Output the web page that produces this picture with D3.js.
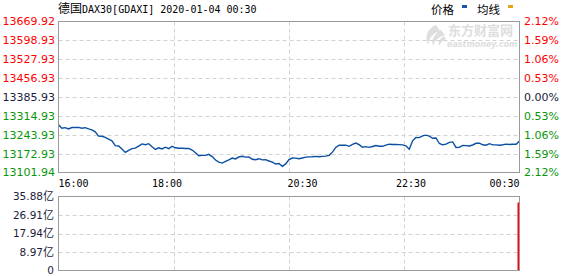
<!DOCTYPE html>
<html lang="zh">
<head>
<meta charset="UTF-8">
<title>德国DAX30</title>
<script src="https://cdnjs.cloudflare.com/ajax/libs/d3/7.8.5/d3.min.js"></script>
<style>
    body { margin: 0; background: #fff; }
    svg { display: block; }
</style>
</head>
<body>
<svg id="chart" width="578" height="276"></svg>
<script>
// previous close, price axis ticks, volume ticks (亿), time labels
var prevClose = 13385.93;
var priceTicks = [13101.94, 13172.93, 13243.93, 13314.93, 13385.93, 13456.93, 13527.93, 13598.93, 13669.92];
var volTicks = [0, 8.97, 17.94, 26.91, 35.88];
var timeLabels = ["16:00", "18:00", "20:30", "22:30", "00:30"];

// price samples, evenly spaced from 16:00 to 00:30
var prices = [
    13281.3, 13268.2, 13270.8, 13265.6, 13271.2, 13271.2, 13271.6, 13268.6, 13270.8, 13265.9,
    13262.2, 13255.1, 13239.0, 13238.3, 13233.8, 13227.5, 13221.1, 13203.2, 13201.7, 13190.5,
    13177.4, 13185.2, 13192.0, 13193.4, 13201.3, 13209.5, 13206.5, 13210.3, 13199.1, 13188.6,
    13194.9, 13190.5, 13197.2, 13191.6, 13200.5, 13194.9, 13193.1, 13193.4, 13192.0, 13192.7,
    13186.3, 13176.3, 13164.7, 13166.2, 13166.5, 13170.3, 13161.7, 13149.0, 13140.8, 13137.4,
    13143.7, 13149.7, 13156.1, 13153.1, 13160.2, 13163.2, 13159.8, 13160.6, 13151.6, 13150.1,
    13153.8, 13149.4, 13150.1, 13145.2, 13141.1, 13133.7, 13135.9, 13125.1, 13134.4, 13150.5,
    13156.5, 13156.1, 13153.5, 13156.5, 13159.8, 13160.9, 13161.3, 13162.4, 13161.3, 13162.4,
    13163.6, 13166.5, 13178.5, 13196.4, 13205.0, 13204.7, 13204.7, 13200.5, 13207.6, 13212.5,
    13206.9, 13196.8, 13199.1, 13196.4, 13199.8, 13203.2, 13200.5, 13200.5, 13204.7, 13208.4,
    13207.3, 13207.3, 13206.9, 13205.8, 13202.4, 13189.7, 13221.1, 13233.8, 13233.1, 13239.8,
    13242.4, 13238.7, 13230.8, 13231.9, 13211.0, 13206.2, 13208.8, 13215.1, 13217.0, 13196.1,
    13196.4, 13203.5, 13203.2, 13201.7, 13205.4, 13211.8, 13212.1, 13206.2, 13204.7, 13210.3,
    13205.8, 13205.8, 13204.3, 13206.2, 13208.8, 13207.3, 13208.0, 13208.4, 13220.7
];

// only the last sample carries volume so far
var volIndex = [138];
var volValues = [32.97];

var svg = d3.select('#chart');
var W = 578, H = 276;
var left = 58.5, right = 519.5;
var top1 = 21.5, bot1 = 172.5;
var top2 = 196.5, bot2 = 270.5;

var red = '#ff0000', green = '#0a960a', dark = '#1c1c3c', gridColor = '#d2d2d2', frameColor = '#9a9a9a';
var numFont = "'DejaVu Sans', Verdana, sans-serif";
var monoFont = "'DejaVu Sans Mono', 'Liberation Mono', monospace";
var cjkFont = "'Noto Sans CJK SC', sans-serif";

svg.append('rect').attr('width', W).attr('height', H).attr('fill', '#fff');

var t0 = new Date(2020, 0, 3, 16, 0);
var t1 = new Date(2020, 0, 4, 0, 30);
var step = (t1 - t0) / (prices.length - 1);
var data = prices.map(function (p, i) { return { t: new Date(+t0 + i * step), p: p }; });

var x = d3.scaleTime().domain([t0, t1]).range([left, right]);
var y = d3.scaleLinear().domain([priceTicks[0], priceTicks[priceTicks.length - 1]]).range([bot1, top1]);
var yv = d3.scaleLinear().domain([0, volTicks[volTicks.length - 1]]).range([bot2, top2]);

function colorFor(p) {
    if (Math.abs(p - prevClose) < 0.005) return dark;
    return p > prevClose ? red : green;
}

// watermark
var wm = svg.append('g').attr('fill', '#dedede');
wm.append('path')
    .attr('d', 'M436,25 C428,28 424,36 428,45 C429,38 433,33 440,31 Z M441,30 C434,34 431,40 433,46 C435,40 439,37 445,35 Z M444,36 C439,39 438,43 439,46 C441,42 443,40 446,39 Z');
wm.append('text').attr('x', 448).attr('y', 35)
    .style('font-family', cjkFont).style('font-size', '13px').style('font-weight', 'bold')
    .text('东方财富网');
wm.append('text').attr('x', 447).attr('y', 46.5)
    .style('font-family', "'DejaVu Sans', sans-serif").style('font-size', '8px')
    .style('font-weight', 'bold').style('font-style', 'italic')
    .text('eastmoney.com');

// grids
function vGrid(yTop, yBot) {
    var xs = d3.range(1, 4).map(function (k) { return Math.round(left + (right - left) * k / 4) + 0.5; });
    svg.append('g').selectAll('line').data(xs).enter().append('line')
        .attr('x1', function (d) { return d; }).attr('x2', function (d) { return d; })
        .attr('y1', yTop).attr('y2', yBot)
        .attr('stroke', gridColor).attr('stroke-dasharray', '4,3');
}
vGrid(top1, bot1);
vGrid(top2, bot2);

svg.append('g').selectAll('line').data(priceTicks.slice(1, -1)).enter().append('line')
    .attr('x1', left).attr('x2', right)
    .attr('y1', function (d) { return Math.round(y(d)) + 0.5; })
    .attr('y2', function (d) { return Math.round(y(d)) + 0.5; })
    .attr('stroke', gridColor).attr('stroke-dasharray', '4,3');

svg.append('g').selectAll('line').data(volTicks.slice(1, -1)).enter().append('line')
    .attr('x1', left).attr('x2', right)
    .attr('y1', function (d) { return Math.round(yv(d)) + 0.5; })
    .attr('y2', function (d) { return Math.round(yv(d)) + 0.5; })
    .attr('stroke', gridColor).attr('stroke-dasharray', '4,3');

// price line
svg.append('path').datum(data)
    .attr('fill', 'none').attr('stroke', '#0a4fa2').attr('stroke-width', 1.4)
    .attr('d', d3.line().x(function (d) { return x(d.t); }).y(function (d) { return y(d.p); }));

// volume bars
svg.append('g').selectAll('rect').data(volIndex).enter().append('rect')
    .attr('x', function (d) { return x(data[d].t) - 2; })
    .attr('width', 2)
    .attr('y', function (d, i) { return yv(volValues[i]); })
    .attr('height', function (d, i) { return yv(0) - yv(volValues[i]); })
    .attr('fill', red);

// frames
svg.append('rect').attr('x', left).attr('y', top1).attr('width', right - left).attr('height', bot1 - top1)
    .attr('fill', 'none').attr('stroke', frameColor);
svg.append('rect').attr('x', left).attr('y', top2).attr('width', right - left).attr('height', bot2 - top2)
    .attr('fill', 'none').attr('stroke', frameColor);

// left price labels
svg.append('g').selectAll('text').data(priceTicks).enter().append('text')
    .attr('x', 55).attr('y', function (d) { return y(d); }).attr('dy', '0.36em')
    .attr('text-anchor', 'end')
    .style('font-family', numFont).style('font-size', '11px')
    .attr('fill', colorFor)
    .text(function (d) { return d.toFixed(2); });

// right percent labels
svg.append('g').selectAll('text').data(priceTicks).enter().append('text')
    .attr('x', 524).attr('y', function (d) { return y(d); }).attr('dy', '0.36em')
    .style('font-family', numFont).style('font-size', '11px')
    .attr('fill', colorFor)
    .text(function (d) { return Math.abs((d - prevClose) / prevClose * 100).toFixed(2) + '%'; });

// volume labels
var vl = svg.append('g').selectAll('text').data(volTicks).enter().append('text')
    .attr('x', 54).attr('y', function (d) { return yv(d); }).attr('dy', '0.36em')
    .attr('text-anchor', 'end')
    .attr('fill', dark)
    .style('font-family', numFont).style('font-size', '10.5px');
vl.append('tspan').text(function (d) { return d === 0 ? '0' : d.toFixed(2); });
vl.append('tspan').style('font-family', cjkFont).style('font-size', '11px')
    .text(function (d) { return d === 0 ? '' : '亿'; });

// time labels
function labelTime(s) {
    var hm = s.split(':');
    var h = +hm[0], m = +hm[1];
    return h < 16 ? new Date(2020, 0, 4, h, m) : new Date(2020, 0, 3, h, m);
}
svg.append('g').selectAll('text').data(timeLabels).enter().append('text')
    .attr('x', function (d) { return x(labelTime(d)); })
    .attr('y', 187)
    .attr('text-anchor', function (d, i) { return i === 0 ? 'start' : (i === timeLabels.length - 1 ? 'end' : 'middle'); })
    .style('font-family', monoFont).style('font-size', '10px')
    .attr('fill', '#000')
    .text(function (d) { return d; });

// title
var title = svg.append('text').attr('x', 58).attr('y', 13).attr('fill', '#000');
title.append('tspan').style('font-family', cjkFont).style('font-size', '12px').text('德国');
title.append('tspan').style('font-family', monoFont).style('font-size', '10px').text('DAX30[GDAXI] 2020-01-04 00:30');

// legend
var legend = [{ name: '价格', color: '#1a55a0', x: 431 }, { name: '均线', color: '#e0a614', x: 477 }];
var lg = svg.append('g').selectAll('g').data(legend).enter().append('g');
lg.append('text').attr('x', function (d) { return d.x; }).attr('y', 14)
    .style('font-family', cjkFont).style('font-size', '11.5px').attr('fill', '#000')
    .text(function (d) { return d.name; });
lg.append('rect').attr('x', function (d) { return d.x + 31; }).attr('y', 5)
    .attr('width', 5).attr('height', 3).attr('fill', function (d) { return d.color; });
</script>
</body>
</html>
